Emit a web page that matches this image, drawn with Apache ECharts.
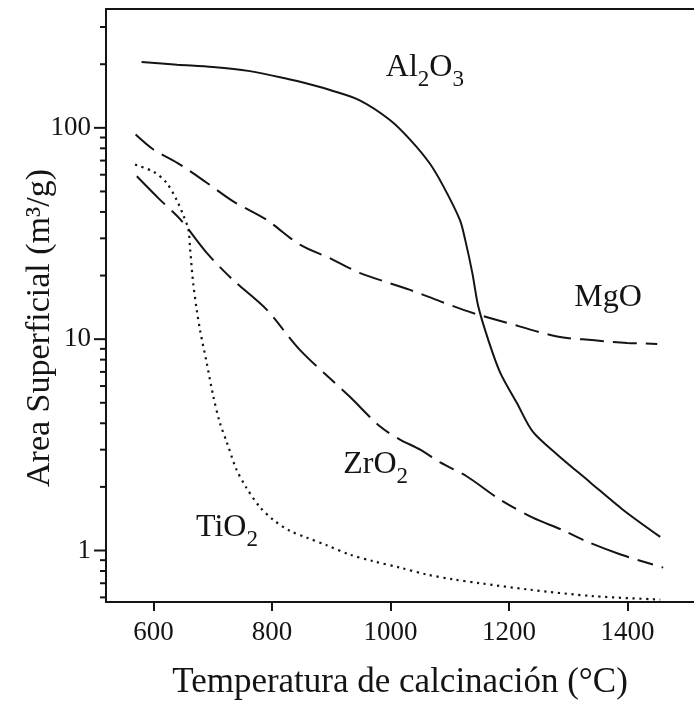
<!DOCTYPE html>
<html><head><meta charset="utf-8">
<script src="https://cdn.jsdelivr.net/npm/echarts@6/dist/echarts.min.js"></script>
<style>html,body{margin:0;padding:0;background:#fff}#c{width:694px;height:704px}</style>
</head><body><div id="c"></div>
<script>
const FONT = '"Liberation Serif","Times New Roman",serif';
const INK = '#141414';

// ---- data ----
const al2o3Temp = [580, 640, 700, 760, 820, 870, 898, 948, 999, 1033, 1066, 1089, 1117, 1126, 1138, 1148, 1165, 1185, 1213, 1240, 1281, 1337, 1392, 1455];
const al2o3Val  = [205, 199, 194, 186, 172, 159, 151, 135, 109, 88, 68, 53, 36.7, 29.5, 20.6, 14.3, 9.9, 6.95, 5.0, 3.65, 2.85, 2.1, 1.56, 1.16];

const mgoTemp = [570, 600, 645, 690, 734, 791, 847, 900, 948, 1033, 1084, 1139, 1190, 1281, 1340, 1399, 1450];
const mgoVal  = [93, 79, 67, 55, 45, 36.7, 28, 24, 20.6, 17.1, 15.1, 13.3, 12.1, 10.3, 9.9, 9.6, 9.5];

const zro2Temp = [572, 610, 645, 690, 734, 791, 847, 931, 982, 1016, 1050, 1084, 1129, 1185, 1240, 1290, 1332, 1387, 1460];
const zro2Val  = [59, 46, 37, 25.6, 19.1, 13.8, 8.9, 5.35, 3.87, 3.35, 3.0, 2.61, 2.24, 1.74, 1.43, 1.25, 1.10, 0.96, 0.83];

const tio2Temp = [569, 600, 622, 639, 650, 659, 662, 667, 673, 679, 690, 701, 712, 724, 740, 757, 780, 802, 830, 859, 892, 932, 971, 1016, 1061, 1106, 1151, 1230, 1342, 1455];
const tio2Val  = [67, 62, 55, 45.7, 38.8, 33, 26.5, 18.5, 13.8, 10.9, 7.7, 5.37, 4.03, 3.24, 2.42, 1.98, 1.6, 1.40, 1.24, 1.15, 1.06, 0.955, 0.89, 0.83, 0.77, 0.73, 0.70, 0.655, 0.608, 0.586];

const xTickValues = [600, 800, 1000, 1200, 1400];
const yMajorTicks = [1, 10, 100];
const yMajorLabels = ['1', '10', '100'];
const yMinorTicks = [0.6, 0.7, 0.8, 0.9, 2, 3, 4, 5, 6, 7, 8, 9, 20, 30, 40, 50, 60, 70, 80, 90, 200, 300];

const seriesNames  = ['Al2O3', 'MgO', 'ZrO2', 'TiO2'];
const labelTexts   = ['Al{s|2}O{s|3}', 'MgO', 'ZrO{s|2}', 'TiO{s|2}'];
const labelTemp    = [1058, 1367, 975, 724];
const labelVal     = [192, 15.7, 2.55, 1.285];

const xMin = 520, xMax = 1512, yMin = 0.5706, yMax = 365;

const xTitle = 'Temperatura de calcinación (°C)';
const yTitle = 'Area Superficial (m³/g)';

// ---- build ----
function zip(a, b) { return a.map((v, i) => [v, b[i]]); }

const tickData = yMajorTicks.map((v, i) => [xMin, v, 1, i]).concat(yMinorTicks.map(v => [xMin, v, 0, -1]));

function lineSeries(name, t, v, type, width) {
  return {
    name, type: 'line', data: zip(t, v), showSymbol: false, symbol: 'none',
    smooth: 0.3, clip: false, silent: true,
    lineStyle: { color: INK, width: width, type: type, cap: 'butt' }
  };
}

const chart = echarts.init(document.getElementById('c'), null, { renderer: 'canvas' });
chart.setOption({
  animation: false,
  backgroundColor: '#fff',
  grid: { left: 106, right: 0, top: 9, bottom: 102, containLabel: false, outerBoundsMode: 'none' },
  xAxis: [{
    type: 'value', min: xMin, max: xMax, position: 'bottom',
    axisLine: { show: true, onZero: false, lineStyle: { color: INK, width: 2 } },
    axisTick: { show: true, inside: false, length: 9, customValues: xTickValues, lineStyle: { color: INK, width: 2 } },
    axisLabel: { show: true, customValues: xTickValues, margin: 17, fontSize: 27, fontFamily: FONT, color: INK,
      formatter: function (v) { return String(v); } },
    splitLine: { show: false },
    name: xTitle, nameLocation: 'middle', nameGap: 63,
    nameTextStyle: { fontSize: 35, fontFamily: FONT, color: INK }
  }, {
    type: 'value', min: xMin, max: xMax, position: 'top',
    axisLine: { show: true, onZero: false, lineStyle: { color: INK, width: 2 } },
    axisTick: { show: false }, axisLabel: { show: false }, splitLine: { show: false }
  }],
  yAxis: {
    type: 'log', logBase: 10, min: yMin, max: yMax,
    axisLine: { show: true, lineStyle: { color: INK, width: 2 } },
    axisTick: { show: false }, axisLabel: { show: false },
    splitLine: { show: false }, minorTick: { show: false }, minorSplitLine: { show: false }
  },
  graphic: [{
    type: 'text', x: 40, y: 328, rotation: Math.PI / 2, silent: true,
    style: { text: yTitle, fontSize: 34, fontFamily: FONT, fill: INK, align: 'center', verticalAlign: 'middle' }
  }],
  series: [
    lineSeries(seriesNames[0], al2o3Temp, al2o3Val, 'solid', 2),
    lineSeries(seriesNames[1], mgoTemp, mgoVal, [24, 9], 2),
    lineSeries(seriesNames[2], zro2Temp, zro2Val, [40, 9, 16, 9], 2),
    lineSeries(seriesNames[3], tio2Temp, tio2Val, [2.2, 4.6], 2.2),
    {
      type: 'custom', name: 'yticks', data: tickData, silent: true, clip: false,
      encode: { x: 0, y: 1 },
      renderItem: function (params, api) {
        const p = api.coord([api.value(0), api.value(1)]);
        const major = api.value(2) === 1;
        const len = major ? 12 : 6;
        const children = [{
          type: 'line', shape: { x1: p[0] - len, y1: p[1], x2: p[0], y2: p[1] },
          style: { stroke: INK, lineWidth: 2 }
        }];
        if (major) {
          children.push({
            type: 'text', x: p[0] - 15, y: p[1],
            style: { text: yMajorLabels[api.value(3)], fontSize: 27, fontFamily: FONT, fill: INK, align: 'right', verticalAlign: 'middle' }
          });
        }
        return { type: 'group', children };
      }
    },
    {
      type: 'custom', name: 'labels', silent: true, clip: false,
      data: labelTemp.map((t, i) => [t, labelVal[i], i]),
      encode: { x: 0, y: 1 },
      renderItem: function (params, api) {
        const p = api.coord([api.value(0), api.value(1)]);
        return {
          type: 'text', x: p[0], y: p[1],
          style: {
            text: labelTexts[api.value(2)], fontSize: 32, fontFamily: FONT, fill: INK,
            align: 'center', verticalAlign: 'middle',
            rich: { s: { fontSize: 23, fontFamily: FONT, fill: INK, verticalAlign: 'bottom', padding: [24, 0, 0, 0] } }
          }
        };
      }
    }
  ]
});
</script></body></html>
